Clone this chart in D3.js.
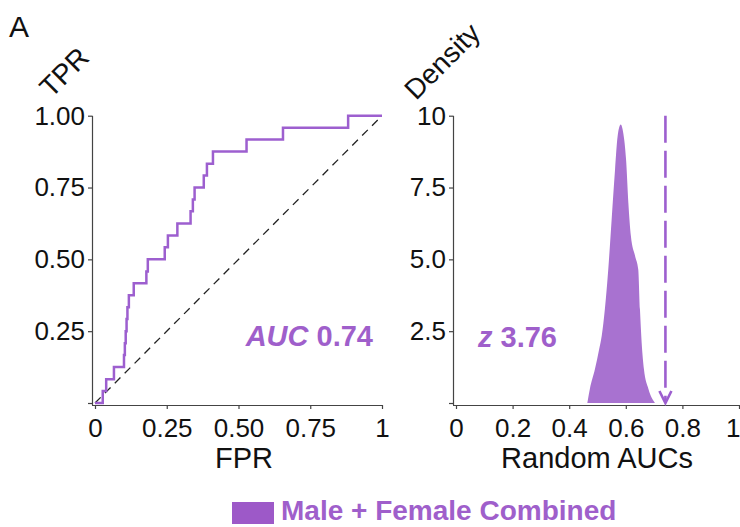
<!DOCTYPE html>
<html>
<head>
<meta charset="utf-8">
<script src="https://cdn.jsdelivr.net/npm/d3@7"></script>
<style>
  body { margin: 0; background: #fff; }
  svg text { font-family: "Liberation Sans", Arial, Helvetica, sans-serif; }
</style>
</head>
<body>
<div id="chart"></div>
<script>
// ROC curve: fpr where each tpr step happens
const rocFPR = [0, 0.027, 0.039, 0.066, 0.101, 0.104, 0.107, 0.110, 0.113, 0.118, 0.135, 0.179, 0.184,
  0.243, 0.254, 0.287, 0.333, 0.341, 0.347, 0.379, 0.390, 0.411, 0.528, 0.655, 0.882, 1];
const rocTPR = [0, 0.042, 0.083, 0.125, 0.167, 0.208, 0.250, 0.292, 0.333, 0.375, 0.417, 0.458, 0.500,
  0.542, 0.583, 0.625, 0.667, 0.708, 0.750, 0.792, 0.833, 0.875, 0.917, 0.958, 1, 1];

// density of random AUCs
const randAUC = [0.464, 0.473, 0.491, 0.506, 0.515, 0.526, 0.538, 0.550, 0.562, 0.571, 0.582, 0.591,
  0.601, 0.609, 0.618, 0.633, 0.644, 0.650, 0.656, 0.664, 0.680, 0.703];
const randDens = [0, 0.49, 1.18, 1.88, 2.34, 3.26, 4.65, 6.39, 8.13, 9.28, 9.69, 9.40,
  8.47, 6.97, 5.81, 5.11, 4.65, 3.26, 2.11, 1.18, 0.49, 0];

const observedAUC = 0.74;
const zScore = "3.76";
const rocTicks = [0, 0.25, 0.5, 0.75, 1];
const rocTickLabels = ["0", "0.25", "0.50", "0.75", "1"];
const rocYTickLabels = ["", "0.25", "0.50", "0.75", "1.00"];
const densXTicks = [0, 0.2, 0.4, 0.6, 0.8, 1];
const densXTickLabels = ["0", "0.2", "0.4", "0.6", "0.8", "1"];
const densYTicks = [0, 2.5, 5, 7.5, 10];
const densYTickLabels = ["", "2.5", "5.0", "7.5", "10"];
const legendLabel = "Male + Female Combined";

const purple = "#9d5fcf";
const fillPurple = "#a872d0";
const textPurple = "#9f5fcb";
const axisCol = "#444";

const svg = d3.select("#chart").append("svg")
  .attr("width", 740).attr("height", 527);

function drawAxes(x, y, xTicks, xLabels, yTicks, yLabels, axX, axY) {
  const g = svg.append("g");
  // x axis
  const xa = g.append("g").attr("transform", `translate(0,${axY})`)
    .call(d3.axisBottom(x).tickValues(xTicks).tickFormat((d, i) => xLabels[i]).tickSize(4).tickSizeOuter(0));
  xa.select(".domain").attr("d", `M${axX},0.5H${x.range()[1]}`);
  // y axis
  const ya = g.append("g").attr("transform", `translate(${axX},0)`)
    .call(d3.axisLeft(y).tickValues(yTicks).tickFormat((d, i) => yLabels[i]).tickSize(4).tickSizeOuter(0));
  ya.select(".domain").attr("d", `M0.5,${y.range()[1]}V${axY}`);
  g.selectAll(".domain").attr("stroke", axisCol).attr("stroke-width", 1.2);
  g.selectAll(".tick line").attr("stroke", axisCol).attr("stroke-width", 1.2);
  g.selectAll(".tick text").attr("fill", "#111").style("font-size", "26px");
  xa.selectAll(".tick text").attr("dy", "0.95em");
  ya.selectAll(".tick text").attr("x", -7);
  return xa;
}

// ---- left panel: ROC
const xL = d3.scaleLinear().domain([0, 1]).range([95, 382]);
const yL = d3.scaleLinear().domain([0, 1]).range([403, 115.7]);
drawAxes(xL, yL, rocTicks, rocTickLabels, rocTicks, rocYTickLabels, 92, 405);

svg.append("line")
  .attr("x1", xL(0)).attr("y1", yL(0)).attr("x2", xL(1)).attr("y2", yL(1))
  .attr("stroke", "#222").attr("stroke-width", 1.3).attr("stroke-dasharray", "8,6");

const rocPts = rocFPR.map((f, i) => [f, rocTPR[i]]);
svg.append("path").datum(rocPts)
  .attr("fill", "none").attr("stroke", purple).attr("stroke-width", 2.5)
  .attr("d", d3.line().x(d => xL(d[0])).y(d => yL(d[1])).curve(d3.curveStepAfter));

svg.append("text").attr("x", 373).attr("y", 346)
  .attr("text-anchor", "end").attr("fill", textPurple)
  .style("font-size", "29px").style("font-weight", "bold")
  .call(t => {
    t.append("tspan").style("font-style", "italic").text("AUC");
    t.append("tspan").text(" 0.74");
  });

svg.append("text").attr("x", 244).attr("y", 468).attr("text-anchor", "middle")
  .style("font-size", "29px").attr("fill", "#111").text("FPR");
svg.append("text").attr("transform", "translate(64,72) rotate(-45)")
  .attr("text-anchor", "middle").attr("dy", "0.35em")
  .style("font-size", "28px").attr("fill", "#111").text("TPR");

// ---- right panel: density of random AUCs
const xR = d3.scaleLinear().domain([0, 1]).range([456, 739]);
const yR = d3.scaleLinear().domain([0, 10]).range([403, 115.7]);
const xaR = drawAxes(xR, yR, densXTicks, densXTickLabels, densYTicks, densYTickLabels, 453, 405);
// keep the last tick label inside the frame
xaR.selectAll(".tick text").filter(d => d === 1).attr("text-anchor", "end").attr("x", 1);

const densPts = randAUC.map((a, i) => [a, randDens[i]]);
svg.append("path").datum(densPts)
  .attr("fill", fillPurple)
  .attr("d", d3.area().x(d => xR(d[0])).y0(yR(0)).y1(d => yR(d[1])).curve(d3.curveMonotoneX));

const ax = xR(observedAUC);
svg.append("line")
  .attr("x1", ax).attr("x2", ax).attr("y1", yR(10)).attr("y2", yR(0))
  .attr("stroke", purple).attr("stroke-width", 2.6).attr("stroke-dasharray", "27,8");
svg.append("path")
  .attr("d", `M${ax - 6},${yR(0) - 12}L${ax},${yR(0)}L${ax + 6},${yR(0) - 12}`)
  .attr("fill", "none").attr("stroke", purple).attr("stroke-width", 2.6);

svg.append("text").attr("x", 478).attr("y", 346.5)
  .attr("fill", textPurple).style("font-size", "29px").style("font-weight", "bold")
  .call(t => {
    t.append("tspan").style("font-style", "italic").text("z");
    t.append("tspan").text(" " + zScore);
  });

svg.append("text").attr("x", 597).attr("y", 468).attr("text-anchor", "middle")
  .style("font-size", "29px").attr("fill", "#111").text("Random AUCs");
svg.append("text").attr("transform", "translate(442,61) rotate(-45)")
  .attr("text-anchor", "middle").attr("dy", "0.35em")
  .style("font-size", "28px").attr("fill", "#111").text("Density");

// panel letter
svg.append("text").attr("x", 9).attr("y", 37)
  .style("font-size", "30px").attr("fill", "#111").text("A");

// legend
svg.append("rect").attr("x", 232).attr("y", 502).attr("width", 42).attr("height", 22)
  .attr("fill", "#9d59c8");
svg.append("text").attr("x", 281).attr("y", 520)
  .attr("fill", textPurple).style("font-size", "28px").style("font-weight", "bold")
  .text(legendLabel);
</script>
</body>
</html>
